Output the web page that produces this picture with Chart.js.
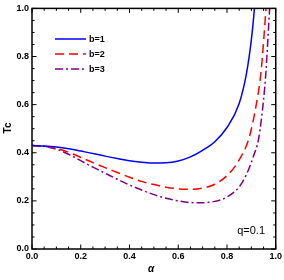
<!DOCTYPE html>
<html><head><meta charset="utf-8">
<script src="https://cdn.jsdelivr.net/npm/chart.js@4.4.0/dist/chart.umd.min.js"></script>
<style>html,body{margin:0;padding:0;background:#fff}#wrap{width:284px;height:280px}</style>
</head><body><div id="wrap"><canvas id="c" width="284" height="280"></canvas></div>
<script>
const seriesLabels = ["b=1", "b=2", "b=3"];
const alpha1 = [0, 0.05, 0.1, 0.15, 0.2, 0.25, 0.3, 0.35, 0.4, 0.45, 0.5, 0.55, 0.6, 0.65, 0.7, 0.75, 0.8, 0.85, 0.88, 0.9, 0.91, 0.92];
const tc1    = [0.43, 0.428, 0.424, 0.417, 0.407, 0.397, 0.386, 0.376, 0.367, 0.361, 0.357, 0.358, 0.366, 0.383, 0.41, 0.446, 0.505, 0.605, 0.73, 0.87, 0.97, 1.1];
const alpha2 = [0, 0.05, 0.1, 0.15, 0.2, 0.25, 0.3, 0.35, 0.4, 0.45, 0.5, 0.55, 0.6, 0.65, 0.7, 0.75, 0.8, 0.85, 0.89, 0.92, 0.94, 0.96, 0.97];
const tc2    = [0.43, 0.427, 0.418, 0.402, 0.381, 0.359, 0.338, 0.318, 0.298, 0.281, 0.268, 0.257, 0.25, 0.248, 0.253, 0.269, 0.305, 0.37, 0.46, 0.6, 0.74, 1.0, 1.15];
const alpha3 = [0, 0.05, 0.1, 0.15, 0.2, 0.25, 0.3, 0.35, 0.4, 0.45, 0.5, 0.55, 0.6, 0.65, 0.7, 0.75, 0.8, 0.85, 0.88, 0.91, 0.93, 0.95, 0.96, 0.975, 0.985];
const tc3    = [0.43, 0.427, 0.415, 0.394, 0.367, 0.34, 0.315, 0.29, 0.266, 0.245, 0.226, 0.211, 0.2, 0.193, 0.192, 0.198, 0.216, 0.258, 0.31, 0.39, 0.46, 0.62, 0.74, 1.0, 1.15];
const xTicks = [0, 0.2, 0.4, 0.6, 0.8, 1.0];
const yTicks = [0, 0.2, 0.4, 0.6, 0.8, 1.0];
const annotationText = "q=0.1";

const colors = ["#0000ff", "#ff0000", "#800080"];
const dashes = [[], [9, 5], [8, 3, 2, 3]];
const xs = [alpha1, alpha2, alpha3], ys = [tc1, tc2, tc3];

const datasets = seriesLabels.map((lab, i) => ({
  label: lab,
  data: xs[i].map((a, k) => ({x: a, y: ys[i][k]})),
  borderColor: colors[i],
  borderWidth: 1.5,
  borderDash: dashes[i],
  pointRadius: 0,
  fill: false,
  cubicInterpolationMode: 'monotone'
}));

const framePlugin = {
  id: 'frame',
  afterDatasetsDraw(chart) {
    const {ctx, chartArea: ca, scales} = chart;
    ctx.save();
    ctx.strokeStyle = '#000';
    ctx.lineWidth = 1.5;
    ctx.strokeRect(ca.left, ca.top, ca.right - ca.left, ca.bottom - ca.top);
    ctx.lineWidth = 1;
    for (let k = 0; k <= 20; k++) {
      const v = k * 0.05;
      const major = k % 4 === 0;
      const L = major ? 4.5 : 2.5;
      const px = scales.x.getPixelForValue(v);
      const py = scales.y.getPixelForValue(v);
      ctx.beginPath();
      ctx.moveTo(px, ca.bottom); ctx.lineTo(px, ca.bottom - L);
      ctx.moveTo(px, ca.top); ctx.lineTo(px, ca.top + L);
      ctx.moveTo(ca.left, py); ctx.lineTo(ca.left + L, py);
      ctx.moveTo(ca.right, py); ctx.lineTo(ca.right - L, py);
      ctx.stroke();
    }
    // legend
    chart.data.datasets.forEach((ds, i) => {
      const y = 39 + i * 15;
      ctx.save();
      ctx.strokeStyle = ds.borderColor;
      ctx.lineWidth = 1.5;
      ctx.setLineDash(ds.borderDash);
      ctx.beginPath(); ctx.moveTo(55, y); ctx.lineTo(86, y); ctx.stroke();
      ctx.restore();
      ctx.fillStyle = '#000';
      ctx.font = 'bold 9px "Liberation Sans", Arial, sans-serif';
      ctx.textAlign = 'left'; ctx.textBaseline = 'middle';
      ctx.fillText(ds.label, 89, y + 0.5);
    });
    // annotation
    ctx.font = '11px "Liberation Sans", Arial, sans-serif';
    ctx.textAlign = 'right'; ctx.textBaseline = 'middle';
    ctx.fillText(annotationText, 265, 231);
    // axis titles
    ctx.font = 'italic bold 10px "Liberation Sans", Arial, sans-serif';
    ctx.textAlign = 'center';
    ctx.fillText('α', 151, 269);
    ctx.save();
    ctx.translate(8, 128);
    ctx.rotate(-Math.PI / 2);
    ctx.font = 'bold 10px "Liberation Sans", Arial, sans-serif';
    ctx.fillText('Tc', 0, 0);
    ctx.restore();
    ctx.restore();
  }
};

new Chart(document.getElementById('c'), {
  type: 'line',
  data: {datasets},
  options: {
    responsive: false,
    animation: false,
    events: [],
    layout: {padding: {left: 0, right: 8, top: 6, bottom: 0}},
    plugins: {legend: {display: false}, tooltip: {enabled: false}},
    scales: {
      x: {
        type: 'linear', min: 0, max: 1,
        afterBuildTicks: s => { s.ticks = xTicks.map(v => ({value: v})); },
        afterFit: s => { s.height = 31; },
        ticks: {color: '#000', font: {family: '"Liberation Sans", Arial, sans-serif', size: 9, weight: 'bold'}, padding: 2, maxRotation: 0, callback: v => v.toFixed(1)},
        grid: {display: false, drawTicks: false},
        border: {display: false}
      },
      y: {
        type: 'linear', min: 0, max: 1,
        afterBuildTicks: s => { s.ticks = yTicks.map(v => ({value: v})); },
        afterFit: s => { s.width = 32; },
        ticks: {color: '#000', font: {family: '"Liberation Sans", Arial, sans-serif', size: 9, weight: 'bold'}, padding: 3, callback: v => v.toFixed(1)},
        grid: {display: false, drawTicks: false},
        border: {display: false}
      }
    }
  },
  plugins: [framePlugin]
});
</script></body></html>
